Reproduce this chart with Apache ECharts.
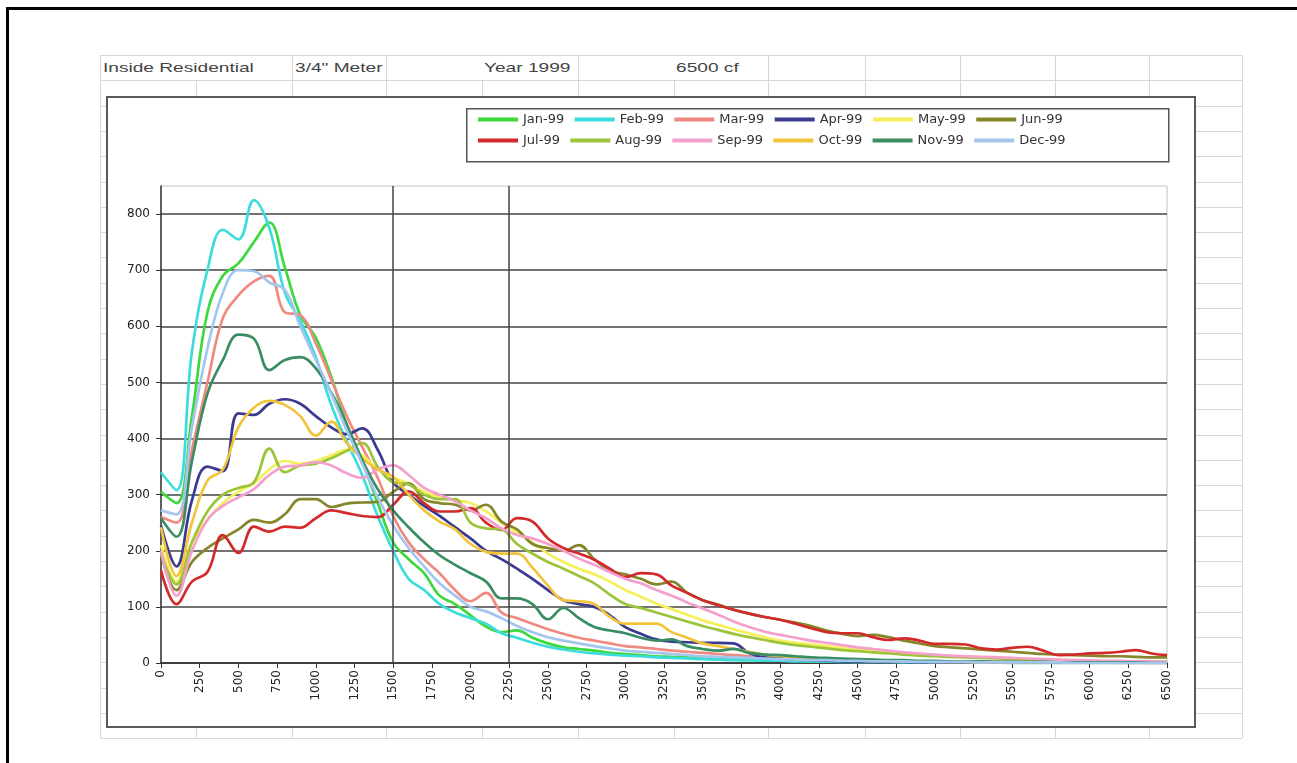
<!DOCTYPE html>
<html lang="en">
<head>
    <meta charset="UTF-8">
    <title>Inside Residential 3/4" Meter - Year 1999</title>
    <style>
        body{margin:0;background:#fff;font-family:"Liberation Sans",Arial,sans-serif;overflow:hidden;}
        #frame{position:absolute;left:6px;top:7px;width:1300px;height:770px;border-top:3px solid #000;border-left:3px solid #000;}
        .hl{position:absolute;height:1px;background:#d8d8d8;}
        .vl{position:absolute;width:1px;background:#d8d8d8;}
        .cell{position:absolute;top:60px;font-size:13px;color:#444;transform:scaleX(1.47);transform-origin:0 0;white-space:nowrap;}
        #box{position:absolute;left:106px;top:96px;width:1086px;height:628px;border:2px solid #5a5a5a;background:#fff;}
        #main{position:absolute;left:108px;top:98px;width:1086px;height:628px;}
    </style>
</head>
<body>
<div id="frame"></div>
<div id="sheet"></div>
<div class="cell" style="left:103px">Inside Residential</div>
<div class="cell" style="left:295px">3/4" Meter</div>
<div class="cell" style="left:484px">Year 1999</div>
<div class="cell" style="left:676px">6500 cf</div>
<div id="box"></div>
<div id="main"></div>
<script src="https://cdn.jsdelivr.net/npm/echarts/dist/echarts.min.js"></script>
<script>
    // flow volume (cf) - one point every 100
    var xs = [0,100,200,300,400,500,600,700,800,900,1000,1100,1200,1300,1400,1500,1600,1700,1800,1900,
        2000,2100,2200,2300,2400,2500,2600,2700,2800,2900,3000,3100,3200,3300,3400,3500,3600,3700,3800,3900,
        4000,4100,4200,4300,4400,4500,4600,4700,4800,4900,5000,5100,5200,5300,5400,5500,5600,5700,5800,5900,
        6000,6100,6200,6300,6400,6500];

    var months = ['Jan-99','Feb-99','Mar-99','Apr-99','May-99','Jun-99','Jul-99','Aug-99','Sep-99','Oct-99','Nov-99','Dec-99'];
    var colors = ['#3cd83c','#3cdcdc','#ee8a80','#3a3a90','#f5f05a','#85852a','#d22a2a','#9cc43a','#f4a0cc','#f2c43c','#3a8c62','#a2c6ee'];

    var jan = [305,285,440,625,690,712,750,785,705,620, 580,510,425,360,285,215,185,160,120,105, 85,65,55,58,45,35,28,25,22,18, 16,14,12,11,10,8,7,6,5,5, 4,4,3,3,3,2,2,2,2,1, 1,1,1,1,1,0,0,0,0,0, 0,0,0,0,0,0];
    var feb = [340,308,555,700,772,755,825,775,660,610, 545,460,395,335,262,200,150,130,105,90, 80,70,53,45,36,29,24,20,17,15, 13,12,10,9,8,7,6,5,5,4, 4,3,3,3,2,2,2,2,1,1, 1,1,1,1,0,0,0,0,0,0, 0,0,0,0,0,0];
    var mar = [260,250,380,500,615,655,680,690,625,620, 570,505,440,385,330,262,215,185,160,130, 110,125,90,80,70,60,52,45,40,35, 30,28,25,22,20,18,16,14,12,10, 10,9,8,7,6,5,5,4,4,3, 3,3,2,2,2,2,1,1,1,1, 1,1,0,0,0,0];
    var apr = [245,172,290,350,342,445,442,462,470,462, 440,420,408,418,380,322,300,280,262,242, 222,200,185,168,150,130,112,105,100,85, 64,52,42,38,37,36,36,35,18,10, 8,6,5,4,3,3,2,2,2,1, 1,1,1,1,1,0,0,0,0,0, 0,0,0,0,0,0];
    var may = [210,145,215,255,285,305,320,345,360,355, 360,370,380,370,345,330,320,305,295,290, 285,270,250,232,215,195,180,168,158,145, 130,118,106,96,86,76,68,60,53,46, 40,36,33,30,27,24,21,19,17,15, 13,12,11,10,9,8,7,6,5,5, 4,4,3,3,2,2];
    var jun = [195,130,180,205,222,238,255,250,265,292, 292,278,284,286,287,305,320,292,285,282, 272,282,252,238,212,205,200,210,185,165, 158,150,140,145,125,112,104,95,88,82, 77,72,66,58,52,48,50,46,40,35, 30,28,26,24,22,20,18,16,15,14, 13,12,12,11,10,10];
    var jul = [165,105,145,162,228,196,243,234,243,241, 258,272,267,262,260,282,306,285,270,270, 276,250,237,258,252,222,205,195,184,168, 153,160,158,138,125,112,103,95,88,82, 77,70,62,55,53,53,46,41,44,40, 34,34,33,26,24,27,29,22,14,15, 17,18,20,23,17,14];
    var aug = [195,140,215,270,300,312,322,382,340,352, 355,365,378,392,350,322,318,300,292,292, 250,240,238,212,195,180,168,155,142,122, 105,98,90,82,74,66,59,52,46,41, 36,32,29,26,23,21,19,17,15,13, 12,11,10,9,8,7,6,5,5,4, 4,3,3,3,2,2];
    var sep = [200,120,200,255,280,295,310,335,350,352, 358,352,338,330,345,352,335,312,300,288, 272,258,240,228,222,212,200,186,175,162, 150,142,130,120,108,97,86,74,64,56, 50,45,40,36,32,28,25,22,19,17, 15,13,12,11,10,9,8,7,6,5, 5,4,4,3,3,2];
    var oct = [242,155,250,325,345,420,455,467,460,440, 405,430,392,365,345,332,300,272,252,238, 212,198,195,195,170,138,112,110,105,82, 70,70,70,55,45,35,30,25,20,15, 12,10,8,7,6,5,4,4,3,3, 2,2,2,1,1,1,1,1,0,0, 0,0,0,0,0,0];
    var nov = [258,225,360,480,540,585,578,522,540,545, 525,482,425,362,310,272,242,215,192,175, 160,145,115,115,105,78,98,80,64,58, 53,45,40,42,30,25,22,25,18,15, 14,12,10,9,8,7,6,5,5,4, 4,3,3,3,2,2,2,2,1,1, 1,1,1,1,0,0];
    var dec = [272,265,420,560,660,700,698,678,665,600, 540,480,415,355,295,245,205,172,142,120, 100,92,80,66,55,46,40,35,30,26, 22,20,18,16,14,12,11,10,9,8, 7,6,5,5,4,4,3,3,3,2, 2,2,2,1,1,1,1,1,1,0, 0,0,0,0,0,0];

    var yTicks = [0,100,200,300,400,500,600,700,800];
    var vLines = [1500, 2250];

    // spreadsheet grid behind the chart
    var sheetCols = [100,196,292,386,482,578,674,768,865,960,1055,1149,1242];
    var headCols = [100,292,386,578,768,865,960,1055,1149,1242];
    var sheet = document.getElementById('sheet');
    function addLine(cls, css) {
        var d = document.createElement('div');
        d.className = cls;
        d.style.cssText = css;
        sheet.appendChild(d);
    }
    for (var r = 0; r <= 27; r++) {
        addLine('hl', 'left:100px;width:1142px;top:' + Math.round(55 + r * 25.3) + 'px');
    }
    sheetCols.forEach(function (c) {
        addLine('vl', 'left:' + c + 'px;top:81px;height:657px');
    });
    headCols.forEach(function (c) {
        addLine('vl', 'left:' + c + 'px;top:55px;height:26px');
    });

    var myChart = echarts.init(document.getElementById('main'));

    var allData = [jan, feb, mar, apr, may, jun, jul, aug, sep, oct, nov, dec];

    function pairs(vals) {
        return xs.map(function (x, i) { return [x, vals[i]]; });
    }

    var series = allData.map(function (vals, i) {
        var s = {
            name: months[i],
            type: 'line',
            data: pairs(vals),
            smooth: 0.4,
            showSymbol: false,
            symbol: 'none',
            lineStyle: {width: 2.7, color: colors[i]},
            itemStyle: {color: colors[i]},
            silent: true
        };
        if (i === 0) {
            s.markLine = {
                silent: true,
                symbol: 'none',
                label: {show: false},
                lineStyle: {color: '#444', width: 1.5, type: 'solid'},
                data: vLines.map(function (v) { return {xAxis: v}; })
            };
        }
        return s;
    });

    var legendBase = {
        orient: 'horizontal',
        left: 370,
        icon: 'rect',
        itemWidth: 40,
        itemHeight: 4,
        itemGap: 10.4,
        padding: 0,
        selectedMode: false,
        textStyle: {fontFamily: 'DejaVu Sans', fontSize: 13, color: '#333', width: 62}
    };

    var option = {
        animation: false,
        backgroundColor: '#fff',
        color: colors,
        textStyle: {fontFamily: 'DejaVu Sans'},
        graphic: [{
            type: 'rect',
            left: 358,
            top: 10,
            z: 1,
            shape: {width: 702, height: 53},
            style: {fill: 'transparent', stroke: '#555', lineWidth: 1.5}
        }],
        legend: [
            Object.assign({}, legendBase, {top: 15, data: months.slice(0, 6)}),
            Object.assign({}, legendBase, {top: 36, data: months.slice(6)})
        ],
        grid: {
            left: 53,
            right: 27,
            top: 88,
            bottom: 63,
            show: true,
            borderColor: '#c4c4c4',
            borderWidth: 1,
            backgroundColor: '#fff'
        },
        xAxis: {
            type: 'value',
            min: 0,
            max: 6500,
            interval: 250,
            axisLine: {show: true, lineStyle: {color: '#333', width: 1.5}},
            axisTick: {show: true, length: 5, lineStyle: {color: '#333'}},
            axisLabel: {
                rotate: 90, margin: 7, fontSize: 12, color: '#222', fontFamily: 'DejaVu Sans',
                formatter: function (v) { return String(v); }
            },
            splitLine: {show: false}
        },
        yAxis: {
            type: 'value',
            min: 0,
            max: 850,
            interval: 100,
            axisLine: {show: true, lineStyle: {color: '#333', width: 1.5}},
            axisTick: {show: true, length: 5, lineStyle: {color: '#333'}, customValues: yTicks},
            axisLabel: {margin: 11, fontSize: 12, color: '#222', fontFamily: 'DejaVu Sans', customValues: yTicks},
            splitLine: {show: true, lineStyle: {color: '#444', width: 1.5}}
        },
        series: series
    };
    myChart.setOption(option);
</script>
</body>
</html>
